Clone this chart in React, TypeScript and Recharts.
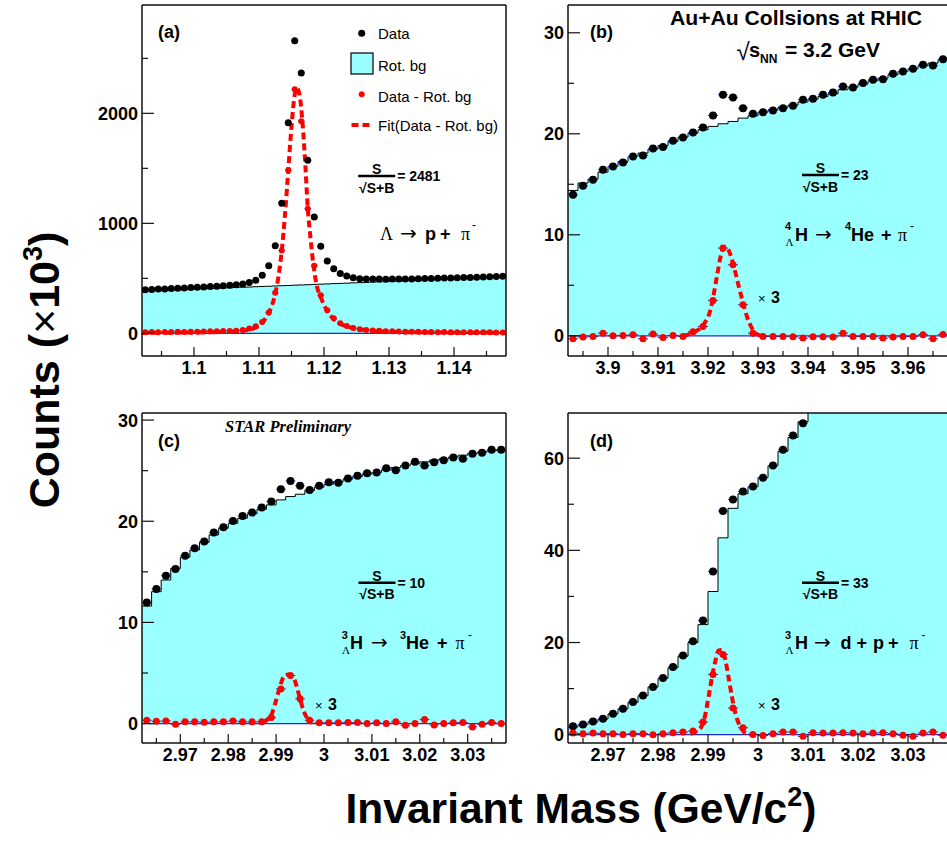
import React from "react";
import { ComposedChart, Area, Scatter, Line, XAxis, YAxis, ReferenceLine, ErrorBar } from "recharts";

const SANS = "'Liberation Sans', Arial, Helvetica, sans-serif";
const SERIF = "'Liberation Serif', 'Times New Roman', serif";
const ARROW = "'DejaVu Sans', sans-serif";
const CYAN = "#99ffff";
const RED = "#ff0000";
const BLUE = "#1f2bd0";
const FRAME = "#111";

// ---- (a) Lambda -> p + pi-, bins of 0.001 starting at 1.092
const binStartA = 1.092;
const binWidthA = 0.001;
const dataA = [
  396, 399, 402, 404, 407, 410, 413, 416, 419, 422,
  426, 429, 433, 437, 441, 449, 462, 482, 527, 615,
  797, 1182, 1915, 2660, 2366, 1573, 1057, 791, 657, 587,
  545, 521, 506, 497, 494, 493, 493, 492, 493, 494,
  494, 495, 496, 498, 499, 500, 502, 503, 505, 507,
  508, 510, 512, 514, 516, 519,
];
const rotBgA = [
  384, 386, 389, 391, 393, 396, 398, 400, 403, 405,
  407, 410, 412, 414, 417, 419, 421, 424, 426, 428,
  431, 433, 435, 438, 440, 442, 445, 447, 449, 452,
  454, 456, 459, 461, 463, 466, 468, 470, 473, 475,
  477, 480, 482, 484, 487, 489, 491, 494, 496, 498,
  501, 503, 505, 508, 510, 512,
];
const subA = [
  11, 12, 11, 13, 12, 14, 13, 15, 14, 16,
  18, 19, 21, 22, 24, 30, 45, 64, 104, 190,
  369, 752, 1482, 2218, 1928, 1133, 614, 346, 209, 137,
  92, 66, 48, 38, 30, 26, 23, 20, 18, 17,
  15, 14, 14, 13, 12, 11, 12, 11, 10, 10,
  9, 9, 10, 9, 8, 8,
];
const fitXA = [
  1.092, 1.096, 1.1, 1.104, 1.106, 1.108, 1.109, 1.11, 1.1105, 1.111,
  1.1115, 1.112, 1.1125, 1.113, 1.1135, 1.114, 1.1145, 1.115, 1.1155, 1.1158,
  1.1162, 1.1167, 1.1171, 1.1175, 1.1179, 1.1184, 1.1189, 1.1195, 1.1205, 1.1215,
  1.1225, 1.1235, 1.1245, 1.126, 1.128, 1.132, 1.14, 1.148,
];
const fitYA = [
  4, 6, 8, 12, 17, 28, 40, 70, 100, 135,
  185, 255, 360, 520, 750, 1080, 1480, 1880, 2170, 2230,
  2180, 1910, 1560, 1140, 880, 610, 430, 330, 200, 130,
  88, 62, 46, 32, 20, 11, 6, 4,
];
const xMajorA = [1.1, 1.11, 1.12, 1.13, 1.14];
const xMinorA = [1.095, 1.105, 1.115, 1.125, 1.135, 1.145];
const yMajorA = [0, 1000, 2000];
const yMinorA = [500, 1500, 2500];

// ---- (b) 4LH -> 4He + pi-, bins of 0.002 starting at 3.892
const binStartB = 3.892;
const binWidthB = 0.002;
const dataB = [
  13.96, 14.85, 15.45, 16.44, 16.77, 17.16, 17.76, 17.85, 18.55, 18.68,
  19.31, 19.64, 20.13, 20.62, 21.81, 23.86, 23.6, 22.54, 21.98, 22.14,
  22.31, 22.54, 22.77, 23.37, 23.47, 23.86, 24.09, 24.69, 24.59, 25.02,
  25.35, 25.41, 25.94, 26.17, 26.44, 26.83, 26.77, 27.39,
];
const rotBgB = [
  14.39, 15.12, 15.51, 16.2, 16.77, 17.26, 17.76, 18.09, 18.48, 18.84,
  19.24, 19.67, 20.07, 20.4, 20.73, 20.99, 21.22, 21.55, 21.78, 22.14,
  22.38, 22.64, 22.84, 23.14, 23.43, 23.7, 23.96, 24.36, 24.62, 24.92,
  25.25, 25.51, 25.84, 26.17, 26.44, 26.73, 27.0, 27.33,
];
const subB = [
  -0.3, -0.13, -0.07, 0.26, 0, 0.03, 0.1, -0.3, 0.17, -0.17,
  0.03, -0.07, 0.4, 0.92, 3.5, 8.68, 7.03, 3.07, 0.26, -0.07,
  -0.07, -0.07, -0.1, -0.23, -0.1, -0.1, -0.13, 0.26, -0.07, -0.07,
  -0.07, -0.23, -0.13, -0.07, -0.07, 0.1, -0.3, 0.13,
];
const fitXB = [
  3.9151, 3.9171, 3.9191, 3.9205, 3.9211, 3.9219, 3.9225, 3.9231, 3.9236, 3.9241,
  3.9251, 3.9261, 3.9271, 3.9278, 3.9288, 3.9298, 3.9308,
];
const fitYB = [
  0, 0.35, 1.1, 2.6, 4.0, 6.2, 7.8, 8.7, 8.85, 8.5,
  7.0, 5.0, 3.1, 1.9, 0.75, 0.15, 0,
];
const xMajorB = [3.9, 3.91, 3.92, 3.93, 3.94, 3.95, 3.96];
const xMinorB = [3.895, 3.905, 3.915, 3.925, 3.935, 3.945, 3.955, 3.965];
const yMajorB = [0, 10, 20, 30];
const yMinorB = [5, 15, 25];

// ---- (c) 3LH -> 3He + pi-, bins of 0.002 starting at 2.962
const binStartC = 2.962;
const binWidthC = 0.002;
const dataC = [
  11.98, 13.3, 14.62, 15.28, 16.6, 17.33, 17.99, 18.88, 19.41, 20.03,
  20.53, 20.86, 21.35, 21.95, 23.17, 23.99, 23.5, 23.1, 23.5, 23.86,
  23.8, 24.22, 24.49, 24.75, 24.82, 25.25, 25.05, 25.51, 25.87, 25.51,
  25.84, 26.04, 26.3, 26.17, 26.67, 26.77, 27.06, 27.06,
];
const rotBgC = [
  11.62, 13.04, 14.19, 15.35, 16.44, 17.16, 17.92, 18.65, 19.31, 19.8,
  20.3, 20.73, 21.19, 21.62, 22.11, 22.44, 22.67, 23.04, 23.37, 23.66,
  23.93, 24.16, 24.42, 24.65, 24.82, 25.08, 25.31, 25.51, 25.68, 25.87,
  26.04, 26.17, 26.34, 26.53, 26.7, 26.83, 26.96, 27.06,
];
const subC = [
  0.33, 0.23, 0.26, -0.07, 0.17, 0.17, 0.13, 0.17, 0.17, 0.26,
  0.17, 0.17, 0.17, 0.59, 3.42, 4.75, 2.45, 0.33, 0.07, 0.07,
  0.07, 0.1, 0.1, 0, 0.07, 0, 0.17, -0.17, 0, 0.4,
  -0.13, 0, 0.07, 0.1, -0.33, -0.07, 0.1, 0,
];
const fitXC = [2.9871, 2.9888, 2.9898, 2.9905, 2.9916, 2.9926, 2.9937, 2.9947, 2.9957, 2.9968, 2.9975];
const fitYC = [0.16, 0.66, 1.98, 3.13, 4.62, 4.85, 4.46, 2.97, 1.32, 0.33, 0.06];
const xMajorC = [2.97, 2.98, 2.99, 3, 3.01, 3.02, 3.03];
const xMinorC = [2.965, 2.975, 2.985, 2.995, 3.005, 3.015, 3.025, 3.035];
const yMajorC = [0, 10, 20, 30];
const yMinorC = [5, 15, 25];

// ---- (d) 3LH -> d + p + pi-, bins of 0.002 starting at 2.962
const binStartD = 2.962;
const binWidthD = 0.002;
const dataD = [
  1.81, 2.24, 2.89, 3.47, 4.56, 5.64, 7.09, 8.53, 10.34, 12.29,
  14.68, 17.21, 20.25, 24.8, 35.43, 48.52, 51.05, 52.78, 53.87, 55.75,
  58.42, 61.82, 64.93, 67.6, 70.8, 73.5, 76, 78.5, 81, 83.5,
  86, 88.5, 91, 93.5, 96, 98.5, 101, 103.5,
];
const rotBgD = [
  1.69, 2.17, 2.77, 3.4, 4.49, 5.62, 7.02, 8.46, 10.34, 12.22,
  14.54, 17.02, 19.99, 23.89, 31.07, 42.71, 49.12, 52.28, 53.8, 55.8,
  58.35, 61.5, 64.5, 67.9, 70.7, 73.4, 76, 78.5, 81, 83.5,
  86, 88.5, 91, 93.5, 96, 98.5, 101, 103.5,
];
const subD = [
  0.36, 0.22, 0.36, 0.22, 0.22, 0.07, 0.22, 0.22, 0, 0.22,
  0.43, 0.57, 0.79, 2.74, 13.08, 17.42, 5.78, 1.51, 0.07, -0.15,
  0.22, 0.57, 0.57, -0.36, 0.43, 0.36, 0.36, 0.43, 0.36, 0.22,
  0.36, 0.43, 0.22, -0.14, -0.36, 0.36, 0.58, -0.14,
];
const fitXD = [
  2.9865, 2.9875, 2.9888, 2.9895, 2.9901, 2.9908, 2.9915, 2.9921, 2.9928, 2.9935,
  2.9941, 2.9948, 2.9955, 2.9965, 2.9978, 2.9991,
];
const fitYD = [
  0.2, 0.6, 2.0, 4.55, 8.16, 12.5, 16.1, 18.3, 18.4, 16.1,
  12.5, 8.16, 4.55, 1.65, 0.22, 0,
];
const xMajorD = [2.97, 2.98, 2.99, 3, 3.01, 3.02, 3.03];
const xMinorD = [2.965, 2.975, 2.985, 2.995, 3.005, 3.015, 3.025, 3.035];
const yMajorD = [0, 20, 40, 60];
const yMinorD = [10, 30, 50];

// histogram edges for the step fill, bin centres for the markers
const histRows = (start: number, width: number, vals: number[]) => [
  ...vals.map((v, i) => ({ x: start + i * width, y: v })),
  { x: start + vals.length * width, y: vals[vals.length - 1] },
];
const pointRows = (start: number, width: number, vals: number[]) =>
  vals.map((v, i) => ({ x: start + (i + 0.5) * width, y: v, ex: width / 2 }));
const fitRows = (xs: number[], ys: number[]) => xs.map((x, i) => ({ x, y: ys[i] }));

const isMajor = (v: number, majors: number[]) => majors.some((m) => Math.abs(m - v) < 1e-7);

const XTick = ({ x, y, payload, majors }: any) => {
  const major = isMajor(payload.value, majors);
  return (
    <g>
      <line x1={x} x2={x} y1={y} y2={y - (major ? 9 : 5)} stroke={FRAME} strokeWidth={1.2} />
      {major && (
        <text x={x} y={y + 18} textAnchor="middle" fontFamily={SANS} fontWeight="bold" fontSize={18} fill="#000">
          {String(payload.value)}
        </text>
      )}
    </g>
  );
};

const YTick = ({ x, y, payload, majors }: any) => {
  const major = isMajor(payload.value, majors);
  return (
    <g>
      <line x1={x} x2={x + (major ? 12 : 6)} y1={y} y2={y} stroke={FRAME} strokeWidth={1.2} />
      {major && (
        <text x={x - 4} y={y + 6.5} textAnchor="end" fontFamily={SANS} fontWeight="bold" fontSize={18} fill="#000">
          {String(payload.value)}
        </text>
      )}
    </g>
  );
};

const dot = (r: number, color: string) => (s: any) => <circle cx={s.cx} cy={s.cy} r={r} fill={color} />;

type Row = { x: number; y: number; ex: number };
type PanelCfg = {
  id: string;
  plotLeft: number;
  plotTop: number;
  plotW: number;
  plotH: number;
  xDomain: [number, number];
  yDomain: [number, number];
  hist: { x: number; y: number }[];
  data: Row[];
  sub: Row[];
  fit: { x: number; y: number }[];
  xMajor: number[];
  xMinor: number[];
  yMajor: number[];
  yMinor: number[];
  dotR: number;
  subR: number;
};

const panels: PanelCfg[] = [
  {
    id: "a", plotLeft: 142, plotTop: 5, plotW: 364, plotH: 351,
    xDomain: [1.092, 1.148], yDomain: [-206, 2985],
    hist: histRows(binStartA, binWidthA, rotBgA),
    data: pointRows(binStartA, binWidthA, dataA),
    sub: pointRows(binStartA, binWidthA, subA),
    fit: fitRows(fitXA, fitYA),
    xMajor: xMajorA, xMinor: xMinorA, yMajor: yMajorA, yMinor: yMinorA,
    dotR: 3.5, subR: 3,
  },
  {
    id: "b", plotLeft: 568, plotTop: 5, plotW: 380, plotH: 351,
    xDomain: [3.892, 3.968], yDomain: [-2, 32.75],
    hist: histRows(binStartB, binWidthB, rotBgB),
    data: pointRows(binStartB, binWidthB, dataB),
    sub: pointRows(binStartB, binWidthB, subB),
    fit: fitRows(fitXB, fitYB),
    xMajor: xMajorB, xMinor: xMinorB, yMajor: yMajorB, yMinor: yMinorB,
    dotR: 4, subR: 3.5,
  },
  {
    id: "c", plotLeft: 142, plotTop: 413, plotW: 364, plotH: 330,
    xDomain: [2.962, 3.038], yDomain: [-1.92, 30.7],
    hist: histRows(binStartC, binWidthC, rotBgC),
    data: pointRows(binStartC, binWidthC, dataC),
    sub: pointRows(binStartC, binWidthC, subC),
    fit: fitRows(fitXC, fitYC),
    xMajor: xMajorC, xMinor: xMinorC, yMajor: yMajorC, yMinor: yMinorC,
    dotR: 4, subR: 3.5,
  },
  {
    id: "d", plotLeft: 568, plotTop: 413, plotW: 380, plotH: 330,
    xDomain: [2.962, 3.038], yDomain: [-1.8, 69.8],
    hist: histRows(binStartD, binWidthD, rotBgD),
    data: pointRows(binStartD, binWidthD, dataD),
    sub: pointRows(binStartD, binWidthD, subD),
    fit: fitRows(fitXD, fitYD),
    xMajor: xMajorD, xMinor: xMinorD, yMajor: yMajorD, yMinor: yMinorD,
    dotR: 4, subR: 3.5,
  },
];

function Panel(p: PanelCfg) {
  // markers above the frame are not drawn (as in the original histogram)
  const inRange = (r: Row) => r.y >= p.yDomain[0] && r.y <= p.yDomain[1];
  return (
    <div style={{ position: "absolute", left: p.plotLeft - 50, top: p.plotTop - 10 }}>
      <ComposedChart width={p.plotW + 60} height={p.plotH + 40} margin={{ top: 10, right: 10, bottom: 0, left: 0 }}>
        <XAxis
          type="number"
          dataKey="x"
          domain={p.xDomain}
          allowDataOverflow
          height={30}
          ticks={[...p.xMajor, ...p.xMinor]}
          interval={0}
          tickSize={0}
          tickMargin={0}
          tickLine={false}
          axisLine={{ stroke: FRAME, strokeWidth: 1.5 }}
          tick={(t: any) => <XTick {...t} majors={p.xMajor} />}
        />
        <YAxis
          type="number"
          dataKey="y"
          domain={p.yDomain}
          allowDataOverflow
          width={50}
          ticks={[...p.yMajor, ...p.yMinor]}
          interval={0}
          tickSize={0}
          tickMargin={0}
          tickLine={false}
          axisLine={{ stroke: FRAME, strokeWidth: 1.5 }}
          tick={(t: any) => <YTick {...t} majors={p.yMajor} />}
        />
        <Area
          data={p.hist}
          dataKey="y"
          type="stepAfter"
          baseValue={0}
          fill={CYAN}
          fillOpacity={1}
          stroke="#000"
          strokeWidth={1}
          isAnimationActive={false}
        />
        <ReferenceLine y={0} stroke={BLUE} strokeWidth={1.2} />
        <Scatter data={p.data.filter(inRange)} shape={dot(p.dotR, "#000")} isAnimationActive={false}>
          <ErrorBar dataKey="ex" direction="x" width={0} stroke={BLUE} strokeWidth={1} />
        </Scatter>
        <Scatter data={p.sub.filter(inRange)} shape={dot(p.subR, RED)} isAnimationActive={false}>
          <ErrorBar dataKey="ex" direction="x" width={0} stroke={BLUE} strokeWidth={1} />
        </Scatter>
        <Line
          data={p.fit}
          dataKey="y"
          type="monotone"
          stroke={RED}
          strokeWidth={4}
          strokeDasharray="7 4"
          dot={false}
          activeDot={false}
          isAnimationActive={false}
        />
        <ReferenceLine y={p.yDomain[1]} stroke={FRAME} strokeWidth={1.5} ifOverflow="visible" />
        <ReferenceLine x={p.xDomain[1]} stroke={FRAME} strokeWidth={1.5} ifOverflow="visible" />
      </ComposedChart>
    </div>
  );
}

const Frac = ({ cx, lineY, value }: { cx: number; lineY: number; value: string }) => (
  <g fontFamily={SANS} fontWeight="bold">
    <text x={cx} y={lineY - 2} textAnchor="middle" fontSize={14}>S</text>
    <line x1={cx - 18.5} x2={cx + 18.5} y1={lineY} y2={lineY} stroke="#000" strokeWidth={2.4} />
    <text x={cx} y={lineY + 16.5} textAnchor="middle" fontSize={14}>√S+B</text>
    <text x={cx + 20.5} y={lineY + 5} fontSize={14}>= {value}</text>
  </g>
);

const Times3 = ({ x, y }: { x: number; y: number }) => (
  <g>
    <text x={x} y={y} fontFamily={SANS} fontSize={13}>×</text>
    <text x={x + 13} y={y} fontFamily={SANS} fontWeight="bold" fontSize={16}>3</text>
  </g>
);

const Arrow = ({ x, y }: { x: number; y: number }) => (
  <text x={x} y={y} fontFamily={ARROW} fontSize={20}>→</text>
);

function Overlay() {
  return (
    <svg width={947} height={846} style={{ position: "absolute", left: 0, top: 0, pointerEvents: "none" }}>
      {/* axis titles */}
      <text transform="translate(59,370) rotate(-90)" textAnchor="middle" fontFamily={SANS} fontWeight="bold" fontSize={43}>
        Counts (<tspan fontWeight="normal">×</tspan>10<tspan dy={-17} fontSize={27}>3</tspan>
        <tspan dy={17}>)</tspan>
      </text>
      <text x={581} y={823} textAnchor="middle" fontFamily={SANS} fontWeight="bold" fontSize={42.5}>
        Invariant Mass (GeV/c<tspan dy={-17} fontSize={27}>2</tspan>
        <tspan dy={17}>)</tspan>
      </text>

      {/* panel tags */}
      <g fontFamily={SANS} fontWeight="bold" fontSize={18}>
        <text x={158} y={38}>(a)</text>
        <text x={590} y={38}>(b)</text>
        <text x={158} y={447}>(c)</text>
        <text x={590} y={447}>(d)</text>
      </g>

      {/* legend (a) */}
      <g fontFamily={SANS} fontSize={15}>
        <circle cx={361.7} cy={33.3} r={3.5} fill="#000" />
        <text x={378} y={39}>Data</text>
        <rect x={351} y={53} width={22} height={21} fill={CYAN} stroke="#000" strokeWidth={1.2} />
        <text x={378} y={70.5}>Rot. bg</text>
        <circle cx={361.7} cy={94.3} r={3} fill={RED} />
        <text x={378} y={101.5}>Data - Rot. bg</text>
        <line x1={351.5} x2={373.5} y1={125} y2={125} stroke={RED} strokeWidth={4} strokeDasharray="7 4" />
        <text x={378} y={131}>Fit(Data - Rot. bg)</text>
      </g>

      {/* significance */}
      <Frac cx={376.7} lineY={176} value="2481" />
      <Frac cx={820.5} lineY={175} value="23" />
      <Frac cx={377} lineY={582.7} value="10" />
      <Frac cx={820.5} lineY={582.7} value="33" />

      {/* decay channels */}
      <g fontSize={18}>
        <text x={380} y={239.5} fontFamily={SERIF}>Λ</text>
        <Arrow x={400} y={239.5} />
        <text x={425} y={239.5} fontFamily={SANS} fontWeight="bold">p</text>
        <text x={440} y={239.5} fontFamily={SANS} fontWeight="bold">+</text>
        <text x={461} y={239.5} fontFamily={SERIF}>π</text>
        <text x={472} y={229} fontFamily={SANS} fontSize={12}>-</text>
      </g>
      <g fontSize={18}>
        <text x={785} y={230} fontFamily={SANS} fontWeight="bold" fontSize={11}>4</text>
        <text x={785.5} y={245.5} fontFamily={SERIF} fontSize={11}>Λ</text>
        <text x={795} y={240.7} fontFamily={SANS} fontWeight="bold">H</text>
        <Arrow x={815} y={240.7} />
        <text x={845} y={230} fontFamily={SANS} fontWeight="bold" fontSize={11}>4</text>
        <text x={851} y={240.7} fontFamily={SANS} fontWeight="bold">He</text>
        <text x={881} y={240.7} fontFamily={SANS} fontWeight="bold">+</text>
        <text x={898} y={240.7} fontFamily={SERIF}>π</text>
        <text x={910} y={230} fontFamily={SANS} fontSize={12}>-</text>
      </g>
      <g fontSize={18}>
        <text x={341.7} y={639} fontFamily={SANS} fontWeight="bold" fontSize={11}>3</text>
        <text x={342} y={654} fontFamily={SERIF} fontSize={11}>Λ</text>
        <text x={350} y={649.3} fontFamily={SANS} fontWeight="bold">H</text>
        <Arrow x={371} y={649.3} />
        <text x={400} y={639} fontFamily={SANS} fontWeight="bold" fontSize={11}>3</text>
        <text x={406} y={649.3} fontFamily={SANS} fontWeight="bold">He</text>
        <text x={437} y={649.3} fontFamily={SANS} fontWeight="bold">+</text>
        <text x={455.5} y={649.3} fontFamily={SERIF}>π</text>
        <text x={468} y={638.5} fontFamily={SANS} fontSize={12}>-</text>
      </g>
      <g fontSize={18}>
        <text x={785} y={639} fontFamily={SANS} fontWeight="bold" fontSize={11}>3</text>
        <text x={785.5} y={654} fontFamily={SERIF} fontSize={11}>Λ</text>
        <text x={795} y={649.3} fontFamily={SANS} fontWeight="bold">H</text>
        <Arrow x={814} y={649.3} />
        <text x={840.5} y={649.3} fontFamily={SANS} fontWeight="bold">d</text>
        <text x={856.5} y={649.3} fontFamily={SANS} fontWeight="bold">+</text>
        <text x={873} y={649.3} fontFamily={SANS} fontWeight="bold">p</text>
        <text x={888} y={649.3} fontFamily={SANS} fontWeight="bold">+</text>
        <text x={909.5} y={649.3} fontFamily={SERIF}>π</text>
        <text x={921.5} y={638.5} fontFamily={SANS} fontSize={12}>-</text>
      </g>

      <Times3 x={758} y={303} />
      <Times3 x={315} y={710} />
      <Times3 x={758} y={710} />

      {/* header texts */}
      <text x={670} y={25} fontFamily={SANS} fontWeight="bold" fontSize={20} textLength={252} lengthAdjust="spacingAndGlyphs">
        Au+Au Collsions at RHIC
      </text>
      <g fontFamily={SANS} fontWeight="bold">
        <text x={736.5} y={60} fontSize={24} fontWeight="normal">√</text>
        <text x={749} y={56.7} fontSize={20}>s</text>
        <text x={760} y={63} fontSize={12}>NN</text>
        <text x={785} y={56.7} fontSize={20} textLength={95} lengthAdjust="spacingAndGlyphs">= 3.2 GeV</text>
      </g>
      <text x={225} y={431.5} fontFamily={SERIF} fontWeight="bold" fontStyle="italic" fontSize={16.5}>
        STAR Preliminary
      </text>
    </svg>
  );
}

export default function App() {
  return (
    <div style={{ position: "absolute", left: 0, top: 0, width: 947, height: 846, overflow: "hidden", background: "#fff" }}>
      {panels.map((p) => (
        <Panel key={p.id} {...p} />
      ))}
      <Overlay />
    </div>
  );
}
